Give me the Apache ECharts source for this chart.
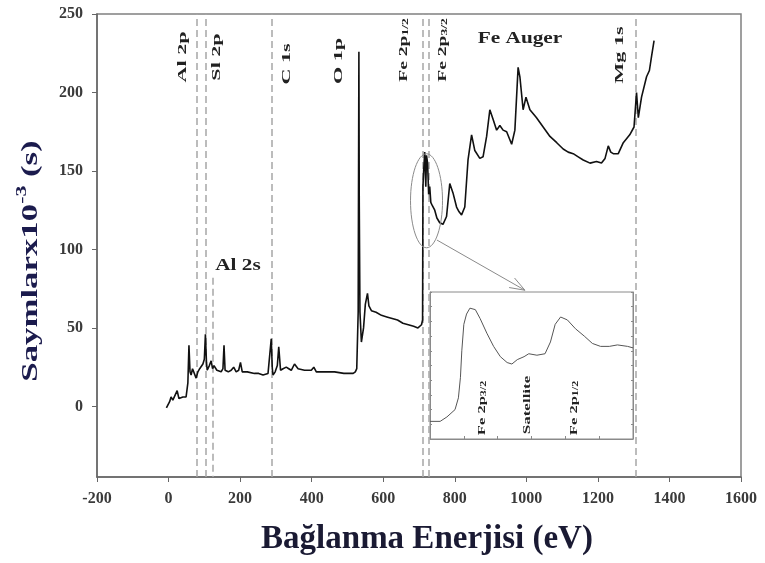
<!DOCTYPE html>
<html>
<head>
<meta charset="utf-8">
<script src="https://cdn.jsdelivr.net/npm/echarts@6/dist/echarts.min.js"></script>
<style>
  html, body { margin: 0; background: #fff; }
  #chart { width: 765px; height: 563px; }
</style>
</head>
<body>
<div id="chart"></div>
<script>
// XPS survey: binding energy (eV) vs counts x10^-3
const surveyEnergy = [-6, 3, 7, 12, 16, 24, 29, 40, 49, 54, 57, 60, 63, 67, 71, 77, 82, 87, 96, 100,
  103, 106, 108, 114, 119, 123, 127, 135, 147, 152, 155, 158, 167, 175, 182, 189, 196, 201, 206, 220,
  240, 252, 264, 278, 283, 287, 290, 292, 298, 304, 308, 313, 320, 329, 336, 343, 352, 362, 380, 399,
  406, 413, 430, 450, 464, 490, 516, 522, 526, 530, 532, 533, 535, 539, 545, 550, 556, 560, 567, 580,
  595, 610, 625, 640, 655, 670, 685, 697, 702, 707, 710, 711, 713, 716, 719, 721, 724, 727, 730, 733,
  737, 744, 750, 758, 767, 777, 786, 795, 805, 812, 819, 828, 837, 847, 856, 870, 879, 889, 898, 907,
  917, 926, 935, 945, 959, 968, 977, 982, 991, 999, 1010, 1028, 1047, 1066, 1085, 1103, 1117, 1131, 1145, 1159,
  1178, 1196, 1210, 1220, 1229, 1236, 1243, 1257, 1271, 1289, 1301, 1308, 1313, 1322, 1336, 1344, 1350, 1357];
const surveyCounts = [-1, 3, 6, 4, 5, 10, 5, 6, 6, 15, 39, 22, 20, 24, 23, 18, 22, 24, 27, 30,
  46, 28, 23, 26, 29, 24, 26, 23, 22, 24, 39, 23, 22, 23, 25, 22, 23, 28, 22, 22,
  21, 21, 20, 21, 22, 43, 24, 20, 22, 26, 38, 23, 24, 25, 24, 23, 27, 24, 23, 23,
  25, 22, 22, 22, 22, 21, 21, 22, 24, 60, 226, 130, 60, 41, 50, 65, 72, 64, 61, 60,
  58, 57, 56, 55, 53, 52, 51, 50, 49, 52, 55, 140, 150, 162, 140, 160, 155, 135, 140, 130,
  128, 125, 120, 117, 116, 121, 142, 136, 127, 124, 122, 127, 157, 173, 163, 158, 159, 172, 189, 183,
  176, 179, 176, 175, 167, 176, 216, 210, 189, 197, 189, 184, 178, 172, 168, 164, 162, 161, 159, 157,
  155, 156, 155, 158, 166, 162, 161, 161, 168, 173, 178, 200, 184, 197, 210, 214, 223, 233];

// inset: Fe 2p region (arbitrary intensity)
const insetEnergy = [705, 706.5, 707.5, 708.7, 709.2, 709.5, 709.7, 710, 710.4, 710.9, 711.7, 712.4,
  713.4, 714.4, 715.4, 716.4, 717.1, 717.9, 718.9, 719.6, 720.8, 722, 722.8, 723.5, 724.3, 725.3,
  726.5, 727.8, 729, 730.2, 731.5, 732.7, 734.2, 735];
const insetCounts = [12, 12, 15, 20, 28, 42, 60, 78, 85, 89, 88, 82,
  72, 63, 56, 52, 51, 54, 56, 58, 57, 58, 66, 78, 83, 81,
  75, 70, 65, 63, 63, 64, 63, 62];

const yTicks = [0, 50, 100, 150, 200, 250];
const peakLines = [79, 105, 289, 711, 728, 1306];
const al2sLine = [124, 82];

const zip = (xs, ys) => xs.map((x, i) => [x, ys[i]]);
const serif = 'Liberation Serif, Times New Roman, serif';

const chart = echarts.init(document.getElementById('chart'));

chart.setOption({
  animation: false,
  grid: [
    { left: 97, right: 24, top: 14, bottom: 86, show: true, borderColor: '#808080', borderWidth: 1.5 },
    { left: 430, top: 292, width: 203, height: 147, show: true, borderColor: '#8a8a8a', borderWidth: 1 }
  ],
  xAxis: [
    {
      type: 'value', gridIndex: 0, min: -200, max: 1600, interval: 200,
      name: 'Bağlanma Enerjisi (eV)', nameLocation: 'middle', nameGap: 46,
      nameTextStyle: { fontFamily: serif, fontWeight: 'bold', fontSize: 33, color: '#1a1a33', padding: [0, 0, 0, 16] },
      axisLine: { onZero: false, lineStyle: { color: '#666', width: 1.5 } },
      axisTick: { length: 5, lineStyle: { color: '#666' } },
      axisLabel: { fontFamily: serif, fontWeight: 'bold', fontSize: 16, color: '#3a3a3a', margin: 14, formatter: v => String(v) },
      splitLine: { show: false }
    },
    {
      type: 'value', gridIndex: 1, min: 705, max: 735, interval: 5,
      axisLine: { onZero: false, lineStyle: { color: '#8a8a8a' } },
      axisTick: { inside: true, length: 3, lineStyle: { color: '#8a8a8a' } },
      axisLabel: { show: false },
      splitLine: { show: false }
    }
  ],
  yAxis: [
    {
      type: 'value', gridIndex: 0, min: -45, max: 250,
      axisLine: { show: true, onZero: false, lineStyle: { color: '#666', width: 1.5 } },
      axisTick: { show: true, length: 5, customValues: yTicks, lineStyle: { color: '#666' } },
      axisLabel: { fontFamily: serif, fontWeight: 'bold', fontSize: 16, color: '#3a3a3a', margin: 14, customValues: yTicks },
      splitLine: { show: false }
    },
    {
      type: 'value', gridIndex: 1, min: 0, max: 100, interval: 10,
      axisLine: { show: true, onZero: false, lineStyle: { color: '#8a8a8a' } },
      axisTick: { show: true, inside: true, length: 2, lineStyle: { color: '#8a8a8a' } },
      axisLabel: { show: false },
      splitLine: { show: false }
    },
    {
      type: 'value', gridIndex: 1, min: 0, max: 100, interval: 10, position: 'right',
      axisLine: { show: true, onZero: false, lineStyle: { color: '#8a8a8a' } },
      axisTick: { show: true, inside: true, length: 2, lineStyle: { color: '#8a8a8a' } },
      axisLabel: { show: false },
      splitLine: { show: false }
    }
  ],
  series: [
    {
      name: 'peaks', type: 'line', xAxisIndex: 0, yAxisIndex: 0, data: [], silent: true,
      markLine: {
        symbol: 'none', silent: true, animation: false,
        label: { show: false },
        lineStyle: { color: '#a6a6a6', type: [7, 4], width: 1.5 },
        data: peakLines.map(v => ({ xAxis: v })).concat([
          [{ coord: al2sLine }, { coord: [al2sLine[0], -45] }]
        ])
      }
    },
    {
      name: 'survey', type: 'line', xAxisIndex: 0, yAxisIndex: 0,
      data: zip(surveyEnergy, surveyCounts),
      showSymbol: false, lineStyle: { color: '#111', width: 1.6 }, z: 5
    },
    {
      name: 'Fe 2p', type: 'line', xAxisIndex: 1, yAxisIndex: 1,
      data: zip(insetEnergy, insetCounts),
      showSymbol: false, lineStyle: { color: '#555', width: 1 }
    }
  ]
});

// annotations
const px = (x, y) => chart.convertToPixel({ xAxisIndex: 0, yAxisIndex: 0 }, [x, y]);
const lbl = { fontFamily: serif, fontWeight: 'bold', fill: '#222' };
const vText = (text, x, y, size, stretch, rich) => ({
  type: 'text', x: x, y: y, rotation: Math.PI / 2, scaleX: stretch, z: 10,
  style: Object.assign({}, lbl, { text: text, fontSize: size, align: 'center', verticalAlign: 'middle', rich: rich })
});
const subRich = (size) => ({
  a: { fontFamily: serif, fontWeight: 'bold', fontSize: size, fill: '#222', lineHeight: size + 3, verticalAlign: 'bottom' },
  b: { fontFamily: serif, fontWeight: 'bold', fontSize: Math.round(size * 0.7), fill: '#222', lineHeight: size + 3, verticalAlign: 'bottom' }
});
const supRich = {
  a: { fontFamily: serif, fontWeight: 'bold', fontSize: 24, fill: '#1b1b4d', lineHeight: 28, verticalAlign: 'bottom' },
  b: { fontFamily: serif, fontWeight: 'bold', fontSize: 15, fill: '#1b1b4d', lineHeight: 28, verticalAlign: 'top' }
};

const ell = px(721, 131);
const a0 = px(750, 106);
const a1 = px(996, 74);
const ang = Math.atan2(a1[1] - a0[1], a1[0] - a0[0]);
const head = (d) => [a1[0] - 16 * Math.cos(ang + d), a1[1] - 16 * Math.sin(ang + d)];

chart.setOption({
  graphic: [
    // y axis title
    {
      type: 'text', x: 29, y: 261, rotation: Math.PI / 2, scaleX: 1.45, z: 10,
      style: { text: '{a|Saymlarx10}{b|-3}{a| (s)}', rich: supRich, align: 'center', verticalAlign: 'middle' }
    },
    vText('Al 2p', 183, 57, 13, 1.7),
    vText('Sl 2p', 217, 57, 13, 1.7),
    vText('C 1s', 287, 64, 13, 1.7),
    vText('O 1p', 339, 61, 13, 1.7),
    vText('{a|Fe 2p}{b|1/2}', 402, 50, 13, 1.5, subRich(13)),
    vText('{a|Fe 2p}{b|3/2}', 441, 50, 13, 1.5, subRich(13)),
    vText('Mg 1s', 620, 55, 13, 1.7),
    {
      type: 'text', x: 520, y: 39, scaleX: 1.25, z: 10,
      style: Object.assign({}, lbl, { text: 'Fe Auger', fontSize: 17, align: 'center', verticalAlign: 'middle' })
    },
    {
      type: 'text', x: 238, y: 266, scaleX: 1.25, z: 10,
      style: Object.assign({}, lbl, { text: 'Al 2s', fontSize: 17, align: 'center', verticalAlign: 'middle' })
    },
    vText('{a|Fe 2p}{b|3/2}', 481, 408, 11, 1.5, subRich(11)),
    vText('Satellite', 527, 405, 11, 1.55),
    vText('{a|Fe 2p}{b|1/2}', 573, 408, 11, 1.5, subRich(11)),
    {
      type: 'ellipse', z: 10,
      shape: { cx: ell[0], cy: ell[1], rx: 16, ry: 47 },
      style: { fill: 'none', stroke: '#8a8a8a', lineWidth: 1 }
    },
    {
      type: 'polyline', z: 10,
      shape: { points: [a0, a1] },
      style: { stroke: '#8a8a8a', lineWidth: 1 }
    },
    {
      type: 'polyline', z: 10,
      shape: { points: [head(0.35), a1, head(-0.35)] },
      style: { stroke: '#8a8a8a', lineWidth: 1, fill: 'none' }
    }
  ]
});
</script>
</body>
</html>
